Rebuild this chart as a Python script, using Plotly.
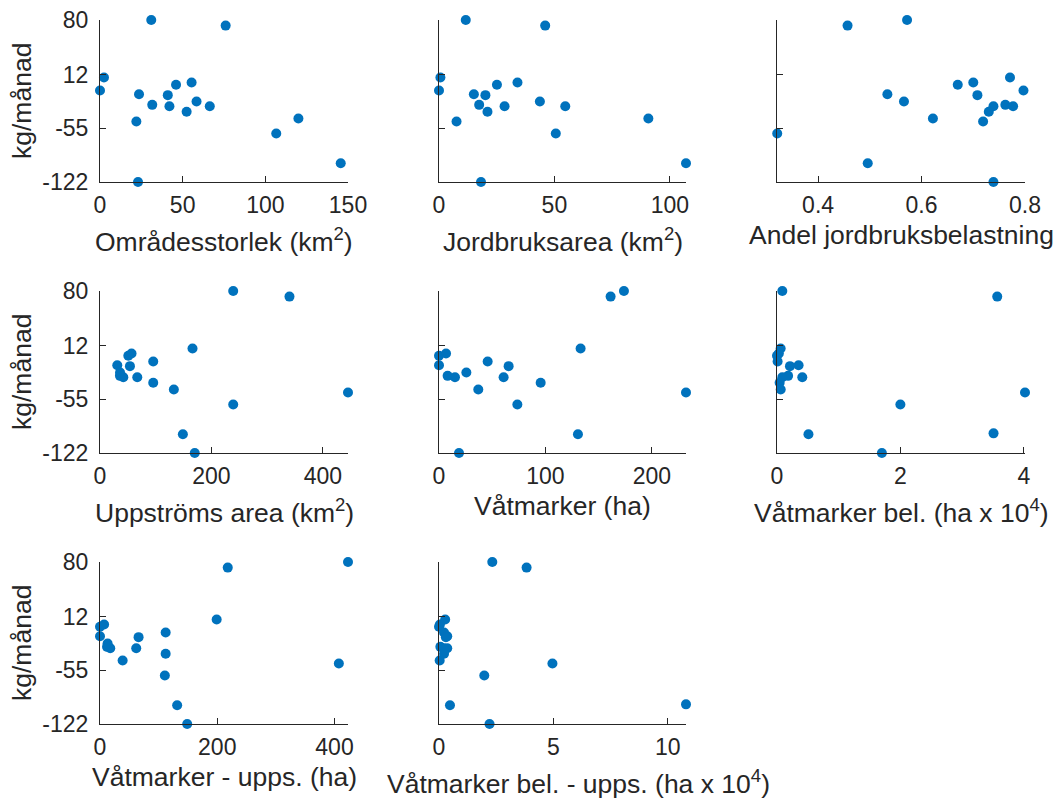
import plotly.graph_objects as go

# Monthly load (kg/månad) per catchment, shared by most panels
y_load = [80, 73, 8.4, -7.9, -12.5, -0.8, 2.1, -13.7, -25.8,
          -27.5, -21.6, -34.5, -27.5, -46.6, -42.9, -61.6, -98.7, -122]
# Load values used for the two "bel." panels
y_load_bel = [80, 73, 8.4, -0.8, 2.1, -7.9, -12.5, -13.7, -25.8,
              -27.5, -27.5, -34.5, -42.9, -46.6, -61.6, -98.7, -97.5, -122]

omradesstorlek = [31, 76, 2.4, 0, 23.6, 46, 55.4, 41, 31.6,
                  42, 58.4, 52.4, 66.4, 22, 120, 106.6, 145.6, 23]
jordbruksarea = [11.6, 46, 0.6, 0, 15.1, 25.1, 34, 20.1, 17.4,
                 28.4, 43.7, 21, 54.7, 7.6, 90.7, 50.6, 107, 18.2]
andel_jordbruk = [0.572, 0.457, 0.771, 0.797, 0.534, 0.670, 0.700, 0.708, 0.762,
                  0.739, 0.566, 0.730, 0.777, 0.719, 0.622, 0.321, 0.496, 0.739]
uppstroms_area = [239, 340, 166, 95.5, 31, 50.8, 56.6, 53.7, 35.8,
                  41.8, 36, 95.5, 66.9, 445, 132.5, 239, 148.7, 170]
vatmarker = [173.7, 161.2, 133, 45.7, 0, 0, 6.6, 65.4, 8.1,
             15, 25.7, 95.5, 60.7, 232, 36.9, 73.6, 130.5, 18.8]
vatmarker_upps = [423, 217.9, 199, 112, 0, 0, 7, 65.8, 12,
                  17.5, 13, 112, 61.8, 407.4, 38.6, 110.6, 131.6, 148.7]
vatmarker_bel = [0.086, 3.57, 0.059, 0, 0.03, 0.01, 0.35, 0.21, 0.18,
                 0.086, 0.41, 0.043, 0.06, 4.02, 2.0, 0.51, 3.51, 1.70]
vatmarker_bel_upps = [2.33, 3.83, 0.27, 0, 0.04, 0.22, 0.36, 0.30, 0.06,
                      0.36, 0.20, 0.22, 0.03, 4.96, 1.98, 0.48, 10.8, 2.21]

y_ticks = [-122, -55, 12, 80]
y_label = "kg/månad"

# (x values, y values, axis title, x range, x ticks, title centre shift in px)
panels = [
    (omradesstorlek, y_load, "Områdesstorlek (km<sup>2</sup>)", [0, 150], [0, 50, 100, 150], 0),
    (jordbruksarea, y_load, "Jordbruksarea (km<sup>2</sup>)", [0, 107], [0, 50, 100], 0),
    (andel_jordbruk, y_load, "Andel jordbruksbelastning", [0.3206, 0.8], [0.4, 0.6, 0.8], 0),
    (uppstroms_area, y_load, "Uppströms area (km<sup>2</sup>)", [0, 445], [0, 200, 400], 0),
    (vatmarker, y_load, "Våtmarker (ha)", [0, 232], [0, 100, 200], 0),
    (vatmarker_bel, y_load_bel, "Våtmarker bel. (ha x 10<sup>4</sup>)", [0, 4.02], [0, 2, 4], 0),
    (vatmarker_upps, y_load, "Våtmarker - upps. (ha)", [0, 423], [0, 200, 400], 0),
    (vatmarker_bel_upps, y_load_bel, "Våtmarker bel. - upps. (ha x 10<sup>4</sup>)", [0, 10.8], [0, 5, 10], 16),
]

W, H = 1058, 798
col_px = [(100, 348), (439, 686), (777, 1025)]
row_px = [(20, 182), (291, 453), (562, 724)]

TEXT = "#262626"
FONT = "Liberation Sans, Arial, sans-serif"
BLUE = "#0072BD"

fig = go.Figure()
annotations = []
layout = {}

for i, (xs, ys, title, xr, xt, shift) in enumerate(panels):
    r, c = divmod(i, 3)
    x0, x1 = col_px[c]
    top, bot = row_px[r]
    n = "" if i == 0 else str(i + 1)
    xa, ya = "x" + n, "y" + n
    fig.add_trace(go.Scatter(
        x=xs, y=ys, mode="markers", xaxis=xa, yaxis=ya,
        marker=dict(size=10, color=BLUE, line=dict(width=0)),
        cliponaxis=False, showlegend=False,
    ))
    axis_common = dict(
        showgrid=False, zeroline=False, showline=True, linecolor=TEXT,
        linewidth=1, ticks="inside", ticklen=6, tickcolor=TEXT, tickwidth=1,
        tickfont=dict(family=FONT, size=23, color=TEXT),
        automargin=False,
    )
    layout["xaxis" + n] = dict(
        axis_common, domain=[x0 / W, x1 / W], range=xr, tickvals=xt,
        ticktext=[f"{v:g}" for v in xt],
        anchor=ya, ticklabelstandoff=2,
    )
    layout["yaxis" + n] = dict(
        axis_common, domain=[1 - bot / H, 1 - top / H], range=[-122, 80],
        tickvals=y_ticks, ticktext=[str(v) for v in y_ticks],
        showticklabels=(c == 0), anchor=xa, ticklabelstandoff=6,
    )
    gap = 58 if "<sup>" in title else 53
    annotations.append(dict(
        text=title, xref="paper", yref="paper",
        x=((x0 + x1) / 2 + shift) / W, y=1 - (bot + gap) / H,
        xanchor="center", yanchor="middle", showarrow=False,
        font=dict(family=FONT, size=26.5, color=TEXT),
    ))
    if c == 0:
        annotations.append(dict(
            text=y_label, xref="paper", yref="paper",
            x=22 / W, y=1 - (top + bot) / 2 / H, textangle=-90,
            xanchor="center", yanchor="middle", showarrow=False,
            font=dict(family=FONT, size=26.5, color=TEXT),
        ))

fig.update_layout(
    width=W, height=H, autosize=False, margin=dict(l=0, r=0, t=0, b=0, pad=0),
    paper_bgcolor="white", plot_bgcolor="white",
    annotations=annotations, **layout,
)

fig.write_html("out.html")
